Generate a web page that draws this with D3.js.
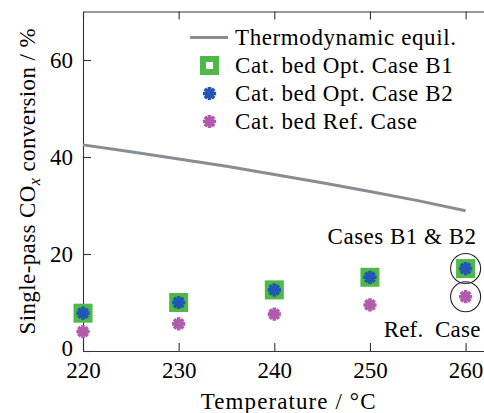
<!DOCTYPE html>
<html>
<head>
<meta charset="utf-8">
<script src="https://cdn.jsdelivr.net/npm/d3@7"></script>
</head>
<body style="margin:0">
<script>
// data
const temps = [220, 230, 240, 250, 260];
const caseB1 = [7.8, 10.0, 12.6, 15.2, 17.0];
const caseB2 = [7.8, 10.0, 12.6, 15.2, 17.0];
const refCase = [4.0, 5.6, 7.6, 9.5, 11.2];
const equilT = [220, 225, 230, 235, 240, 245, 250, 255, 260];
const equilVal = [42.5, 41.1, 39.6, 38.1, 36.4, 34.7, 32.9, 31.0, 28.9];
const xTicks = [220, 230, 240, 250, 260];
const yTicks = [0, 20, 40, 60];
const legendLabels = ['Thermodynamic equil.', 'Cat. bed Opt. Case B1', 'Cat. bed Opt. Case B2', 'Cat. bed Ref. Case'];

const green = '#4fb947', blue = '#1f57b2', pink = '#b05bab', grey = '#878d93';
const font = '"Times New Roman"';

const W = 484, H = 413;
const svg = d3.select('body').append('svg')
    .attr('width', W)
    .attr('height', H);

const x = d3.scaleLinear().domain([220, 263]).range([83, 494.3]);
const y = d3.scaleLinear().domain([0, 70]).range([351, 11.5]);

// 8 spoke asterisk like the pgfplots mark
const star = {
  draw(ctx, size) {
    const r = Math.sqrt(size) / 2;
    for (let i = 0; i < 4; i++) {
      const a = i * Math.PI / 4;
      ctx.moveTo(-r * Math.sin(a), -r * Math.cos(a));
      ctx.lineTo(r * Math.sin(a), r * Math.cos(a));
    }
  }
};
const starPath = d3.symbol().type(star).size(175)();
const starW = 3.6;
const sq = 13, sqW = 6;

function label(sel, spacing) {
  return sel.style('font-family', font)
    .style('font-size', '23px')
    .style('letter-spacing', (spacing || 0) + 'px');
}

// axes, ticks point inward
const axisG = svg.append('g');
axisG.append('g')
  .attr('transform', `translate(0,${y(0)})`)
  .call(d3.axisBottom(x).tickValues(xTicks).tickSizeInner(-8).tickSizeOuter(0).tickPadding(11).tickFormat(d3.format('d')));
axisG.append('g')
  .attr('transform', `translate(0,${y(70)})`)
  .call(d3.axisTop(x).tickValues(xTicks).tickSizeInner(-8).tickSizeOuter(0).tickFormat(''));
axisG.append('g')
  .attr('transform', `translate(${x(220)},0)`)
  .call(d3.axisLeft(y).tickValues(yTicks).tickSizeInner(-8).tickSizeOuter(0).tickPadding(10).tickFormat(d3.format('d')));
axisG.selectAll('g').attr('font-family', null).attr('font-size', null);
axisG.selectAll('.domain, .tick line').attr('stroke', '#333').attr('stroke-width', 1.1);
label(axisG.selectAll('.tick text'));
axisG.selectAll('.tick text').filter(d => d === 0).attr('dy', '0.2em');

// equilibrium line
svg.append('path')
  .datum(equilT.map((t, i) => [t, equilVal[i]]))
  .attr('fill', 'none')
  .attr('stroke', grey)
  .attr('stroke-width', 3)
  .attr('d', d3.line().x(d => x(d[0])).y(d => y(d[1])));

// markers
svg.append('g').selectAll('rect')
  .data(temps.map((t, i) => [t, caseB1[i]]))
  .enter().append('rect')
  .attr('x', d => x(d[0]) - sq / 2)
  .attr('y', d => y(d[1]) - sq / 2)
  .attr('width', sq)
  .attr('height', sq)
  .attr('fill', '#fff')
  .attr('stroke', green)
  .attr('stroke-width', sqW);

svg.append('g').selectAll('path')
  .data(temps.map((t, i) => [t, caseB2[i]]))
  .enter().append('path')
  .attr('transform', d => `translate(${x(d[0])},${y(d[1])})`)
  .attr('d', starPath)
  .attr('stroke', blue)
  .attr('stroke-width', starW);

svg.append('g').selectAll('path')
  .data(temps.map((t, i) => [t, refCase[i]]))
  .enter().append('path')
  .attr('transform', d => `translate(${x(d[0])},${y(d[1])})`)
  .attr('d', starPath)
  .attr('stroke', pink)
  .attr('stroke-width', starW);

// annotation circles at 260
const last = temps.length - 1;
[caseB1[last], refCase[last]].forEach(v => {
  svg.append('circle')
    .attr('cx', x(temps[last]))
    .attr('cy', y(v))
    .attr('r', 15)
    .attr('fill', 'none')
    .attr('stroke', '#222')
    .attr('stroke-width', 1.1);
});
label(svg.append('text'), 0.5)
  .attr('x', x(temps[last]) + 11)
  .attr('y', y(caseB1[last]) - 25)
  .attr('text-anchor', 'end')
  .text('Cases B1 & B2');
label(svg.append('text'), 0.2)
  .attr('x', x(temps[last]) + 15)
  .attr('y', y(refCase[last]) + 40)
  .attr('text-anchor', 'end')
  .text('Ref.\u2002Case');

// legend
const leg = svg.append('g').attr('transform', 'translate(209.5,37.5)');
const rowH = 28;
leg.append('line')
  .attr('x1', -19.5).attr('x2', 18.5)
  .attr('y1', 0).attr('y2', 0)
  .attr('stroke', grey).attr('stroke-width', 3);
leg.append('rect')
  .attr('x', -sq / 2).attr('y', rowH - sq / 2)
  .attr('width', sq).attr('height', sq)
  .attr('fill', '#fff').attr('stroke', green).attr('stroke-width', sqW);
leg.append('path')
  .attr('transform', `translate(0,${rowH * 2})`)
  .attr('d', starPath).attr('stroke', blue).attr('stroke-width', starW);
leg.append('path')
  .attr('transform', `translate(0,${rowH * 3})`)
  .attr('d', starPath).attr('stroke', pink).attr('stroke-width', starW);
label(leg.selectAll('text.lab')
  .data(legendLabels)
  .enter().append('text')
  .attr('class', 'lab'), 0.6)
  .attr('x', 25.5)
  .attr('y', (d, i) => i * rowH + 7)
  .text(d => d);

// axis labels
label(svg.append('text'), 1.1)
  .attr('x', (x.range()[0] + x.range()[1]) / 2)
  .attr('y', 409)
  .attr('text-anchor', 'middle')
  .text('Temperature / °C');

const yl = label(svg.append('text'), 0.4)
  .attr('transform', `translate(35,${(y(0) + y(70)) / 2}) rotate(-90)`)
  .attr('text-anchor', 'middle');
yl.append('tspan').text('Single-pass CO');
yl.append('tspan').attr('dy', 5).style('font-size', '16px').style('font-style', 'italic').text('x');
yl.append('tspan').attr('dy', -5).text(' conversion / %');
</script>
</body>
</html>
